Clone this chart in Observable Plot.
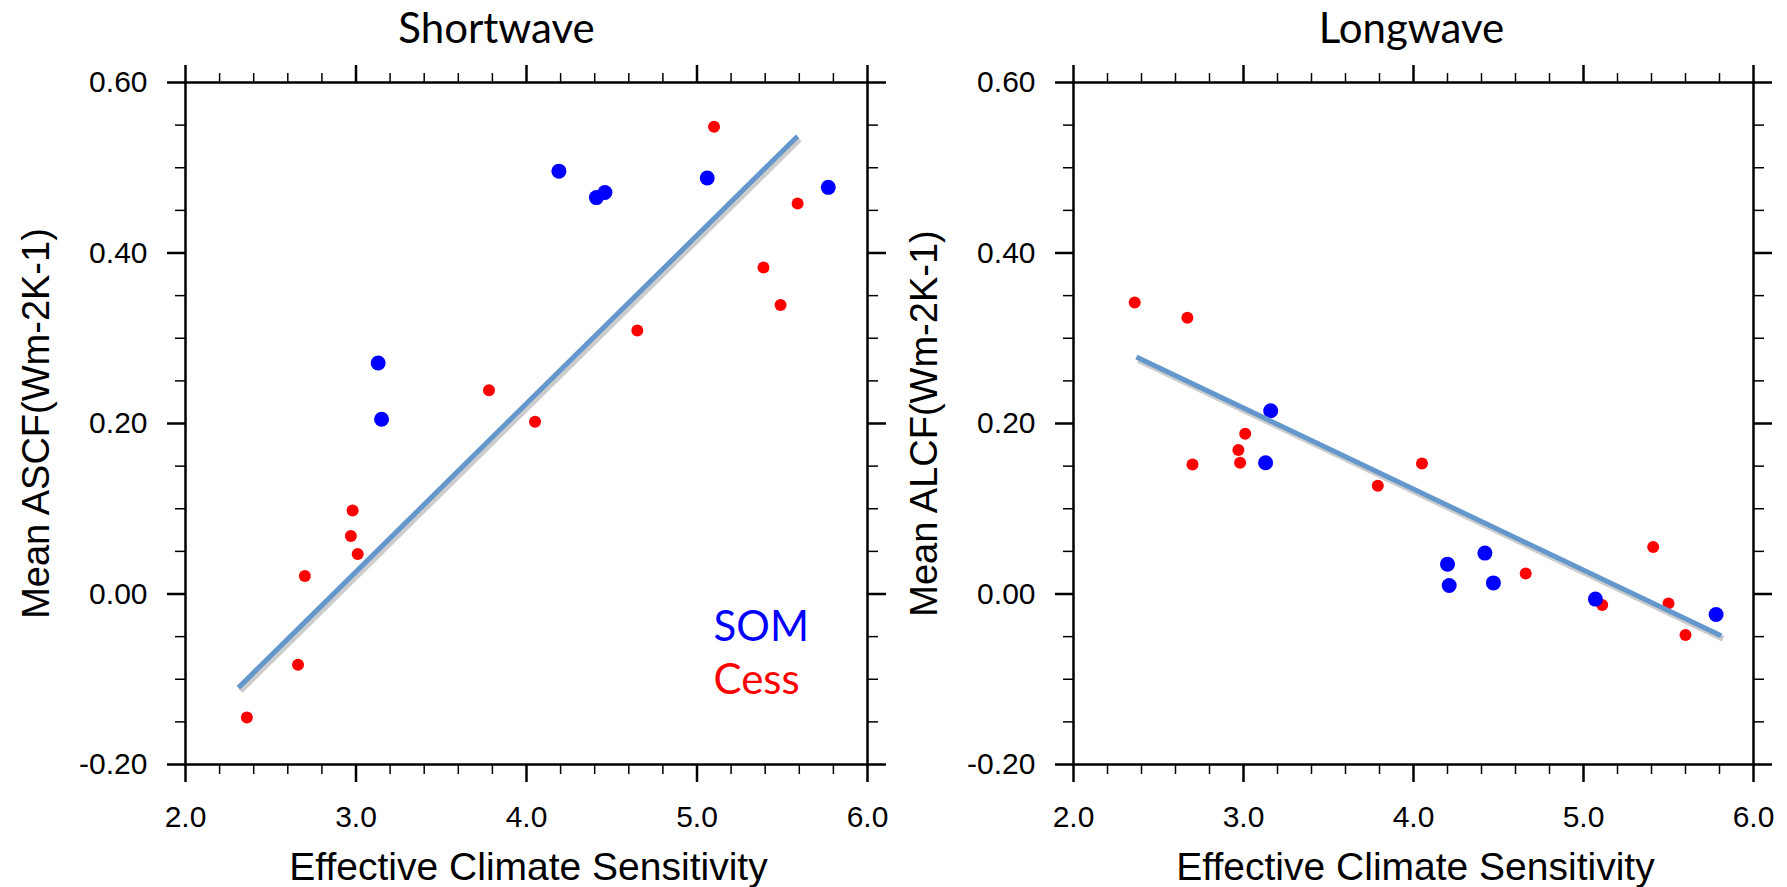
<!DOCTYPE html>
<html><head><meta charset="utf-8">
<script src="https://cdn.jsdelivr.net/npm/d3@7"></script>
<script src="https://cdn.jsdelivr.net/npm/@observablehq/plot@0.6"></script>
<style>
html,body{margin:0;padding:0;background:#fff;}
#wrap{display:flex;width:1787px;height:887px;overflow:hidden;}
#wrap svg{display:block;}
</style></head><body><div id="wrap"></div>
<script>
// ---- data ----
const panelTitles = ["Shortwave", "Longwave"];
const yLabels = ["Mean ASCF(Wm-2K-1)", "Mean ALCF(Wm-2K-1)"];
const xLabel = "Effective Climate Sensitivity";
const seriesNames = ["SOM", "Cess"];

const swSomX  = [3.13, 3.15, 4.19, 4.41, 4.46, 5.06, 5.77];
const swSomY  = [0.271, 0.205, 0.496, 0.465, 0.471, 0.488, 0.477];
const swCessX = [2.36, 2.66, 2.70, 2.97, 2.98, 3.01, 3.78, 4.05, 4.65, 5.10, 5.39, 5.49, 5.59];
const swCessY = [-0.145, -0.083, 0.021, 0.068, 0.098, 0.047, 0.239, 0.202, 0.309, 0.548, 0.383, 0.339, 0.458];
const swFitX  = [2.31, 5.59];
const swFitY  = [-0.110, 0.537];

const lwSomX  = [3.16, 3.13, 4.20, 4.21, 4.42, 4.47, 5.07, 5.78];
const lwSomY  = [0.215, 0.154, 0.035, 0.010, 0.048, 0.013, -0.006, -0.024];
const lwCessX = [2.36, 2.67, 2.70, 2.97, 2.98, 3.01, 3.79, 4.05, 4.66, 5.11, 5.41, 5.50, 5.60];
const lwCessY = [0.342, 0.324, 0.152, 0.169, 0.154, 0.188, 0.127, 0.153, 0.024, -0.013, 0.055, -0.011, -0.048];
const lwFitX  = [2.37, 5.81];
const lwFitY  = [0.278, -0.049];

const xMajor = [2, 3, 4, 5, 6];
const xMinor = [2.2, 2.4, 2.6, 2.8, 3.2, 3.4, 3.6, 3.8, 4.2, 4.4, 4.6, 4.8, 5.2, 5.4, 5.6, 5.8];
const yMajor = [-0.2, 0, 0.2, 0.4, 0.6];
const yMinor = [-0.15, -0.1, -0.05, 0.05, 0.1, 0.15, 0.25, 0.3, 0.35, 0.45, 0.5, 0.55];

const zip = (xs, ys) => xs.map((x, i) => ({x, y: ys[i]}));

const SANS = "'Liberation Sans', Arial, Helvetica, sans-serif";
const HUM = "Lato, 'Open Sans', sans-serif";

function panel({title, titleDx, ylabel, som, cess, fit, legend, width, marginLeft, marginRight}) {
  const marks = [
    // minor ticks (all four sides, outward)
    Plot.axisX(xMinor, {anchor: "bottom", tickSize: 10, strokeWidth: 1.5, fill: "none", label: null}),
    Plot.axisX(xMinor, {anchor: "top", tickSize: 10, strokeWidth: 1.5, fill: "none", label: null}),
    Plot.axisY(yMinor, {anchor: "left", tickSize: 10, strokeWidth: 1.5, fill: "none", label: null}),
    Plot.axisY(yMinor, {anchor: "right", tickSize: 10, strokeWidth: 1.5, fill: "none", label: null}),
    // major ticks
    Plot.axisX(xMajor, {anchor: "bottom", tickSize: 18, strokeWidth: 2.5, tickPadding: 23,
      tickFormat: d => d.toFixed(1), fontSize: 30, label: null}),
    Plot.axisX(xMajor, {anchor: "top", tickSize: 18, strokeWidth: 2.5, fill: "none", label: null}),
    Plot.axisY(yMajor, {anchor: "left", tickSize: 18, strokeWidth: 2.5, tickPadding: 20,
      tickFormat: d => d.toFixed(2), fontSize: 30, label: null}),
    Plot.axisY(yMajor, {anchor: "right", tickSize: 18, strokeWidth: 2.5, fill: "none", label: null}),
    Plot.frame({strokeWidth: 2.5}),
    // points
    Plot.dot(cess, {x: "x", y: "y", r: 6, fill: "#ff0000"}),
    Plot.dot(som, {x: "x", y: "y", r: 7.5, fill: "#0000ff"}),
    // regression line with soft shadow
    Plot.line(fit, {x: "x", y: "y", stroke: "#555", strokeOpacity: 0.3, strokeWidth: 6, dx: 2, dy: 3, strokeLinecap: "butt"}),
    Plot.line(fit, {x: "x", y: "y", stroke: "#6497cc", strokeWidth: 5, strokeLinecap: "butt"}),
    // titles and labels
    Plot.text([title], {text: d => d, frameAnchor: "top", dx: titleDx, dy: -40, lineAnchor: "bottom",
      textAnchor: "middle", fontSize: 42, fontFamily: HUM, fill: "black"}),
    Plot.text([ylabel], {text: d => d, frameAnchor: "left", dx: -137, rotate: -90, lineAnchor: "bottom",
      textAnchor: "middle", fontSize: 38, fontFamily: SANS, fill: "black"}),
    Plot.text([xLabel], {text: d => d, frameAnchor: "bottom", dx: 2, dy: 115, lineAnchor: "bottom",
      textAnchor: "middle", fontSize: 39, fontFamily: SANS, fill: "black"})
  ];
  if (legend) {
    marks.push(
      Plot.text([seriesNames[0]], {text: d => d, frameAnchor: "bottom-right", dx: -154, dy: -124, textAnchor: "start",
        lineAnchor: "bottom", fontSize: 42, fontFamily: HUM, fill: "#0000ff"}),
      Plot.text([seriesNames[1]], {text: d => d, frameAnchor: "bottom-right", dx: -154, dy: -71, textAnchor: "start",
        lineAnchor: "bottom", fontSize: 42, fontFamily: HUM, fill: "#ff0000"})
    );
  }
  return Plot.plot({
    width, height: 887,
    marginLeft, marginRight, marginTop: 82, marginBottom: 123,
    x: {domain: [2, 6]},
    y: {domain: [-0.2, 0.6]},
    style: {fontFamily: SANS, fontSize: "30px", background: "white", color: "black", overflow: "visible"},
    marks
  });
}

const wrap = document.getElementById("wrap");
wrap.appendChild(panel({
  title: panelTitles[0], titleDx: -30, ylabel: yLabels[0],
  som: zip(swSomX, swSomY), cess: zip(swCessX, swCessY), fit: zip(swFitX, swFitY),
  legend: true, width: 890, marginLeft: 185, marginRight: 23
}));
wrap.appendChild(panel({
  title: panelTitles[1], titleDx: -2, ylabel: yLabels[1],
  som: zip(lwSomX, lwSomY), cess: zip(lwCessX, lwCessY), fit: zip(lwFitX, lwFitY),
  legend: false, width: 897, marginLeft: 183, marginRight: 34
}));
</script></body></html>
